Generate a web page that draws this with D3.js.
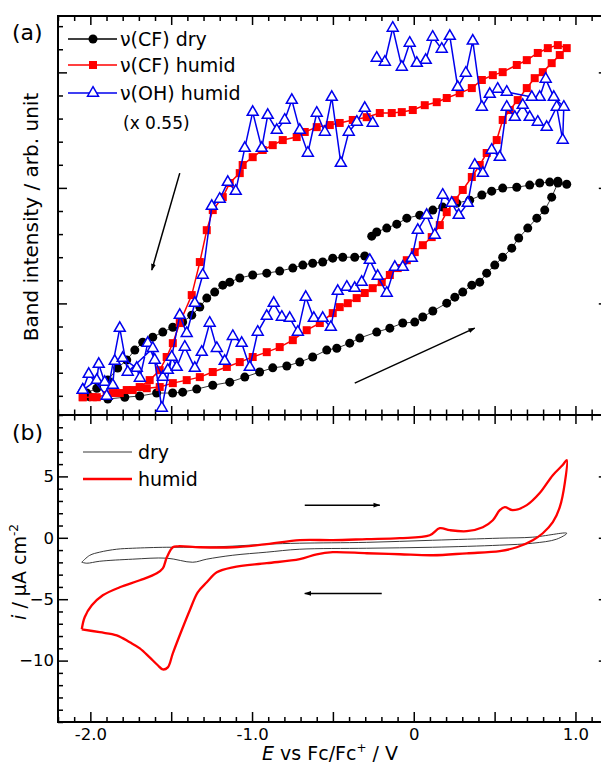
<!DOCTYPE html>
<html><head><meta charset="utf-8">
<script src="https://cdn.jsdelivr.net/npm/d3@7"></script>
<style>body{margin:0;background:#fff}</style>
</head><body>
<script>
// ---- panel (a): band intensity vs potential, [E (V), intensity (arb.)]; null = break in the line
const cfDry = [
  [-2.004,0.096],[-1.892,0.086],[-1.787,0.094],[-1.695,0.099],[-1.590,0.112],[-1.491,0.112],[-1.429,0.116],
  [-1.342,0.129],[-1.243,0.146],[-1.138,0.159],[-1.045,0.181],[-0.953,0.203],[-0.872,0.221],[-0.785,0.229],
  [-0.705,0.246],[-0.625,0.268],[-0.538,0.298],[-0.476,0.306],[-0.396,0.328],[-0.334,0.350],[-0.229,0.376],
  [-0.148,0.393],[-0.068,0.415],[0.006,0.419],[0.056,0.441],[0.118,0.467],[0.204,0.501],[0.254,0.527],
  [0.303,0.549],[0.359,0.579],[0.408,0.592],[0.451,0.631],[0.501,0.666],[0.550,0.700],[0.606,0.739],
  [0.649,0.783],[0.705,0.826],[0.761,0.869],[0.810,0.904],[0.853,0.960],[0.891,1.021],[0.946,1.016],
  [0.891,1.029],[0.841,1.025],[0.779,1.021],[0.717,1.012],[0.637,1.003],[0.550,0.999],[0.482,0.986],
  [0.421,0.969],[0.346,0.947],[0.266,0.934],[0.179,0.917],[0.118,0.904],[0.037,0.882],[-0.043,0.869],
  [-0.105,0.843],[-0.167,0.826],[-0.229,0.809],[-0.260,0.791],
  null,
  [-0.303,0.705],[-0.365,0.700],[-0.439,0.700],[-0.501,0.696],[-0.563,0.679],[-0.625,0.674],[-0.686,0.666],
  [-0.748,0.653],[-0.829,0.640],[-0.909,0.631],[-0.996,0.623],[-1.076,0.610],[-1.138,0.592],[-1.181,0.579],
  [-1.231,0.549],[-1.280,0.523],[-1.323,0.484],[-1.373,0.449],[-1.429,0.419],[-1.490,0.397],[-1.552,0.376],
  [-1.614,0.354],[-1.676,0.332],[-1.725,0.298],[-1.775,0.255],[-1.831,0.220],[-1.892,0.168],[-1.960,0.133],
  [-2.022,0.112]
];
const cfHumid = [
  [-2.047,0.094],[-1.985,0.094],[-1.899,0.103],[-1.818,0.112],[-1.738,0.125],[-1.651,0.133],[-1.571,0.138],
  [-1.490,0.155],[-1.404,0.168],[-1.323,0.181],[-1.243,0.203],[-1.156,0.225],[-1.076,0.246],[-0.996,0.268],
  [-0.909,0.289],[-0.829,0.311],[-0.748,0.341],[-0.662,0.384],[-0.581,0.415],[-0.501,0.458],[-0.458,0.484],
  [-0.408,0.501],[-0.353,0.523],[-0.303,0.545],[-0.254,0.566],[-0.198,0.592],[-0.148,0.623],[-0.099,0.653],
  [-0.043,0.687],[0.006,0.722],[0.056,0.752],[0.111,0.787],[0.161,0.839],[0.204,0.895],[0.254,0.947],
  [0.303,0.991],[0.359,1.047],[0.408,1.099],[0.451,1.151],[0.513,1.207],[0.550,1.294],[0.594,1.337],
  [0.643,1.380],[0.699,1.432],[0.748,1.475],[0.798,1.501],[0.853,1.540],[0.903,1.575],[0.946,1.605],
  [0.891,1.618],[0.829,1.605],[0.767,1.584],[0.699,1.553],[0.637,1.532],[0.550,1.501],[0.489,1.488],
  [0.421,1.467],[0.359,1.432],[0.284,1.410],[0.204,1.389],[0.142,1.371],[0.068,1.358],[-0.006,1.337],
  [-0.074,1.328],[-0.136,1.324],[-0.210,1.324],[-0.291,1.306],[-0.377,1.294],[-0.458,1.281],[-0.519,1.272],
  [-0.600,1.263],[-0.674,1.242],[-0.724,1.220],[-0.810,1.207],[-0.872,1.185],[-0.934,1.164],[-0.996,1.133],
  [-1.058,1.099],[-1.076,1.064],[-1.138,1.021],[-1.181,0.960],[-1.243,0.904],[-1.280,0.817],[-1.323,0.679],
  [-1.373,0.536],[-1.447,0.415],[-1.490,0.328],[-1.528,0.268],[-1.571,0.211],[-1.633,0.168],[-1.695,0.138],
  [-1.775,0.125],[-1.861,0.112],[-1.960,0.094],[-2.047,0.094]
];
const ohHumid = [
  [-2.047,0.125],[-1.960,0.168],[-1.948,0.237],[-1.911,0.159],[-1.861,0.146],[-1.849,0.250],[-1.800,0.263],
  [-1.713,0.220],[-1.694,0.177],[-1.645,0.328],[-1.602,0.255],[-1.552,0.181],[-1.521,0.211],[-1.497,0.268],
  [-1.466,0.224],[-1.416,0.311],[-1.354,0.220],[-1.311,0.289],[-1.262,0.415],[-1.218,0.306],[-1.169,0.250],
  [-1.119,0.358],[-1.064,0.328],[-1.014,0.224],[-0.965,0.376],[-0.909,0.445],[-0.866,0.501],[-0.816,0.441],
  [-0.767,0.436],[-0.717,0.376],[-0.668,0.527],[-0.618,0.436],[-0.563,0.436],[-0.513,0.397],[-0.470,0.553],
  [-0.414,0.571],[-0.365,0.566],[-0.322,0.592],[-0.272,0.687],[-0.223,0.618],[-0.167,0.545],[-0.117,0.657],
  [-0.068,0.657],[-0.012,0.696],[0.025,0.817],[0.080,0.882],[0.130,0.796],[0.179,0.969],[0.235,0.934],
  [0.278,0.882],[0.334,0.934],[0.377,1.099],[0.427,1.064],[0.482,1.164],[0.532,1.133],[0.575,1.350],
  [0.625,1.306],[0.674,1.358],[0.717,1.306],[0.767,1.285],[0.822,1.263],[0.884,1.350],[0.921,1.207],
  [0.928,1.350],[0.866,1.393],[0.816,1.471],[0.779,1.393],[0.730,1.393],[0.575,1.415],[0.519,1.428],
  [0.470,1.406],[0.421,1.350],[0.365,1.636],[0.322,1.497],[0.272,1.436],[0.223,1.657],[0.173,1.601],
  [0.117,1.653],[0.074,1.553],[0.019,1.540],[-0.025,1.627],[-0.074,1.523],[-0.130,1.692],[-0.179,1.545],
  [-0.229,1.562],
  null,
  [-0.254,1.281],[-0.303,1.345],[-0.352,1.285],[-0.402,1.242],[-0.451,1.107],[-0.507,1.393],[-0.550,1.242],
  [-0.600,1.324],[-0.655,1.151],[-0.705,1.250],[-0.754,1.380],[-0.798,1.294],[-0.847,1.250],[-0.903,1.315],
  [-0.940,1.172],[-0.996,1.328],[-1.045,1.172],[-1.101,0.986],[-1.150,1.025],[-1.200,0.952],[-1.249,0.921],
  [-1.305,0.623],[-1.354,0.501],[-1.404,0.371],[-1.447,0.449],[-1.558,0.047],[-1.614,0.306],[-1.769,0.203],
  [-1.818,0.393],[-1.899,0.099],[-2.010,0.194],[-2.047,0.125]
];

// ---- panel (b): cyclic voltammograms, [E (V), i (uA cm-2)]
const cvDry = [
  [-2.053,-1.99],[-2.004,-1.43],[-1.942,-1.17],[-1.837,-0.93],[-1.738,-0.85],[-1.527,-0.77],[-1.323,-0.77],
  [-1.119,-0.68],[-0.909,-0.52],[-0.705,-0.44],[-0.291,-0.37],[0.117,-0.20],[0.532,-0.03],[0.736,0.05],
  [0.946,0.37],[0.884,-0.11],[0.736,-0.44],[0.532,-0.60],[0.117,-0.77],[-0.291,-0.85],[-0.705,-0.93],
  [-0.909,-1.17],[-1.119,-1.42],[-1.280,-1.74],[-1.367,-1.99],[-1.527,-1.66],[-1.738,-1.74],[-1.942,-1.91],
  [-2.022,-2.07],[-2.053,-1.99]
];
const cvHumid = [
  [-2.053,-7.45],[-2.035,-6.47],[-1.991,-5.50],[-1.923,-4.68],[-1.818,-4.03],[-1.694,-3.46],[-1.589,-2.89],
  [-1.552,-2.49],[-1.527,-1.59],[-1.490,-0.77],[-1.459,-0.69],[-1.323,-0.77],[-1.119,-0.77],[-0.909,-0.52],
  [-0.705,-0.19],[-0.501,-0.19],[-0.291,-0.11],[-0.087,-0.03],[0.099,0.21],[0.161,0.78],[0.223,0.62],
  [0.328,0.54],[0.427,0.86],[0.489,1.43],[0.532,2.25],[0.563,2.49],[0.612,2.25],[0.699,2.66],[0.779,3.64],
  [0.860,5.10],[0.921,5.92],[0.946,6.33],[0.934,4.45],[0.903,2.49],[0.860,1.27],[0.798,0.37],[0.736,-0.19],
  [0.637,-0.77],[0.532,-1.09],[0.328,-1.26],[0.117,-1.42],[-0.087,-1.34],[-0.291,-1.26],[-0.501,-1.17],
  [-0.600,-1.34],[-0.705,-1.74],[-0.909,-2.07],[-1.119,-2.40],[-1.218,-2.81],[-1.280,-3.62],[-1.336,-4.44],
  [-1.385,-5.90],[-1.435,-7.53],[-1.490,-9.41],[-1.521,-10.55],[-1.552,-10.72],[-1.583,-10.38],
  [-1.633,-9.74],[-1.694,-9.00],[-1.756,-8.51],[-1.837,-7.94],[-1.942,-7.69],[-2.053,-7.45]
];

// ticks
const xMajor = [-2, -1.5, -1, -0.5, 0, 0.5, 1];
const xMinor = d3.range(-22, 12).map(v => v / 10);
const xLabels = new Map([[-2, "-2.0"], [-1, "-1.0"], [0, "0"], [1, "1.0"]]);
const yaMajor = [0.5, 1, 1.5];
const yaMinor = d3.range(1, 18).map(v => v / 10);
const ybMajor = [-10, -5, 0, 5];
const ybMinor = d3.range(-15, 11);

// arrows [[E0, y0], [E1, y1]]
const arrowsA = [[[-1.447, 1.064], [-1.620, 0.644]], [[-0.365, 0.155], [0.377, 0.393]]];
const arrowsB = [[[-0.674, 2.66], [-0.210, 2.66]], [[-0.198, -4.53], [-0.674, -4.53]]];

const W = 601, H = 767;
const FONT = "'DejaVu Sans', sans-serif";
const svg = d3.select("body").append("svg")
  .attr("width", W).attr("height", H)
  .style("font-family", FONT);

const x = d3.scaleLinear().domain([-2.2, 1.2]).range([58, 607.8]);
const ya = d3.scaleLinear().domain([0.017, 1.744]).range([415, 16]);
const yb = d3.scaleLinear().domain([-15, 10]).range([722, 415]);

const defs = svg.append("defs");
defs.append("marker").attr("id", "ah")
  .attr("viewBox", "0 0 10 10").attr("refX", 9).attr("refY", 5)
  .attr("markerWidth", 7).attr("markerHeight", 7).attr("orient", "auto")
  .attr("markerUnits", "userSpaceOnUse")
  .append("path").attr("d", "M0,1.5L10,5L0,8.5Z").attr("fill", "#000");

// axis helper
function ticks(gen, vals, size, tx, ty, fmt) {
  const g = svg.append("g").attr("transform", `translate(${tx},${ty})`)
    .call(gen.tickValues(vals).tickSize(size).tickSizeOuter(0)
      .tickPadding(gen.pad || 6).tickFormat(fmt || (() => "")));
  g.attr("font-family", FONT).attr("font-size", 16.5);
  g.select(".domain").remove();
  g.selectAll("line").attr("stroke", "#000").attr("stroke-width", 1.5);
  g.selectAll("text").attr("fill", "#000");
  return g;
}
const minorOnly = vals => vals.filter(v => !xMajor.some(m => Math.abs(m - v) < 1e-6));

// bottom axis of (b)
ticks(d3.axisBottom(x), xMajor, -10, 0, 722, v => xLabels.get(v) || "")
  .selectAll("text").attr("dy", "0.71em").attr("y", 6);
ticks(d3.axisBottom(x), minorOnly(xMinor), -5, 0, 722);
// shared middle axis
ticks(d3.axisBottom(x), xMajor, 9, 0, 415);
ticks(d3.axisTop(x), xMajor, 9, 0, 415);
ticks(d3.axisBottom(x), minorOnly(xMinor), 5.5, 0, 415);
ticks(d3.axisTop(x), minorOnly(xMinor), 5.5, 0, 415);
// top axis of (a)
ticks(d3.axisBottom(x), xMajor, 9, 0, 16);
ticks(d3.axisBottom(x), minorOnly(xMinor), 5, 0, 16);
// left / right of (a)
ticks(d3.axisRight(ya), yaMajor, 9, 58, 0);
ticks(d3.axisRight(ya), yaMinor.filter(v => !yaMajor.includes(v)), 5, 58, 0);
ticks(d3.axisLeft(ya), yaMajor, 9, 607.8, 0);
ticks(d3.axisLeft(ya), yaMinor.filter(v => !yaMajor.includes(v)), 5, 607.8, 0);
// left / right of (b)
const lb = d3.axisLeft(yb); lb.pad = 4;
ticks(lb, ybMajor, -10, 58, 0, d3.format("d"));
ticks(d3.axisLeft(yb), ybMinor.filter(v => !ybMajor.includes(v)), -5, 58, 0);
ticks(d3.axisLeft(yb), ybMajor, 9, 607.8, 0);
ticks(d3.axisLeft(yb), ybMinor.filter(v => !ybMajor.includes(v)), 5, 607.8, 0);

// frames
[[16, 415], [415, 722]].forEach(([t, b]) => {
  svg.append("rect").attr("x", 58).attr("y", t).attr("width", 607.8 - 58).attr("height", b - t)
    .attr("fill", "none").attr("stroke", "#000").attr("stroke-width", 2);
});

// ---- panel (a) series
const lineA = d3.line().defined(d => d).x(d => x(d[0])).y(d => ya(d[1]));
const gA = svg.append("g");

gA.append("path").datum(cfDry).attr("d", lineA)
  .attr("fill", "none").attr("stroke", "#000").attr("stroke-width", 0.8);
gA.append("g").selectAll("circle").data(cfDry.filter(d => d)).join("circle")
  .attr("cx", d => x(d[0])).attr("cy", d => ya(d[1])).attr("r", 4.5).attr("fill", "#000");

gA.append("path").datum(cfHumid).attr("d", lineA)
  .attr("fill", "none").attr("stroke", "#ff0000").attr("stroke-width", 1.5);
gA.append("g").selectAll("rect").data(cfHumid).join("rect")
  .attr("x", d => x(d[0]) - 4).attr("y", d => ya(d[1]) - 4)
  .attr("width", 8).attr("height", 8).attr("fill", "#ff0000");

const tri = d3.symbol().type(d3.symbolTriangle).size(52);
gA.append("path").datum(ohHumid).attr("d", lineA)
  .attr("fill", "none").attr("stroke", "#0000ee").attr("stroke-width", 1.5);
gA.append("g").selectAll("path").data(ohHumid.filter(d => d)).join("path")
  .attr("d", tri).attr("transform", d => `translate(${x(d[0])},${ya(d[1])})`)
  .attr("fill", "#fff").attr("stroke", "#0000ee").attr("stroke-width", 1.5);

arrowsA.forEach(([a, b]) => {
  svg.append("line").attr("x1", x(a[0])).attr("y1", ya(a[1])).attr("x2", x(b[0])).attr("y2", ya(b[1]))
    .attr("stroke", "#000").attr("stroke-width", 1.5).attr("marker-end", "url(#ah)");
});

// legend (a)
const legA = svg.append("g").attr("font-size", 19);
const rows = [
  { y: 39, label: "\u03bd(CF) dry", kind: "dot" },
  { y: 65, label: "\u03bd(CF) humid", kind: "sq" },
  { y: 93, label: "\u03bd(OH) humid", kind: "tri" }
];
rows.forEach(r => {
  const col = r.kind === "dot" ? "#000" : r.kind === "sq" ? "#ff0000" : "#0000ee";
  legA.append("line").attr("x1", 68).attr("x2", 117).attr("y1", r.y).attr("y2", r.y)
    .attr("stroke", col).attr("stroke-width", 1.5);
  if (r.kind === "dot") legA.append("circle").attr("cx", 93).attr("cy", r.y).attr("r", 4.5).attr("fill", col);
  if (r.kind === "sq") legA.append("rect").attr("x", 89).attr("y", r.y - 4).attr("width", 8).attr("height", 8).attr("fill", col);
  if (r.kind === "tri") legA.append("path").attr("d", tri).attr("transform", `translate(93,${r.y})`)
    .attr("fill", "#fff").attr("stroke", col).attr("stroke-width", 1.5);
  legA.append("text").attr("x", 120).attr("y", r.y + 7).text(r.label);
});
legA.append("text").attr("x", 123).attr("y", 129).attr("font-size", 17).text("(x 0.55)");

// ---- panel (b) series
const lineB = d3.line().x(d => x(d[0])).y(d => yb(d[1])).curve(d3.curveCatmullRom);
svg.append("path").datum(cvDry).attr("d", lineB)
  .attr("fill", "none").attr("stroke", "#222").attr("stroke-width", 0.9);
svg.append("path").datum(cvHumid).attr("d", lineB)
  .attr("fill", "none").attr("stroke", "#ff0000").attr("stroke-width", 2.3);

arrowsB.forEach(([a, b]) => {
  svg.append("line").attr("x1", x(a[0])).attr("y1", yb(a[1])).attr("x2", x(b[0])).attr("y2", yb(b[1]))
    .attr("stroke", "#000").attr("stroke-width", 1.5).attr("marker-end", "url(#ah)");
});

const legB = svg.append("g").attr("font-size", 19);
legB.append("line").attr("x1", 83).attr("x2", 132).attr("y1", 452).attr("y2", 452)
  .attr("stroke", "#222").attr("stroke-width", 0.9);
legB.append("line").attr("x1", 83).attr("x2", 132).attr("y1", 479).attr("y2", 479)
  .attr("stroke", "#ff0000").attr("stroke-width", 2.3);
legB.append("text").attr("x", 138).attr("y", 459).text("dry");
legB.append("text").attr("x", 138).attr("y", 486).text("humid");

// panel letters
svg.append("text").attr("x", 12).attr("y", 40).attr("font-size", 22).text("(a)");
svg.append("text").attr("x", 12).attr("y", 440).attr("font-size", 22).text("(b)");

// axis titles
svg.append("text").attr("transform", "translate(38,217) rotate(-90)")
  .attr("text-anchor", "middle").attr("font-size", 20).text("Band intensity / arb. unit");

const yt = svg.append("text").attr("transform", "translate(26,572) rotate(-90)")
  .attr("text-anchor", "middle").attr("font-size", 19);
yt.append("tspan").attr("font-style", "italic").text("i");
yt.append("tspan").text(" / \u03bcA cm");
yt.append("tspan").attr("font-size", 12).attr("dy", -8).text("-2");

const xt = svg.append("text").attr("x", 330).attr("y", 760)
  .attr("text-anchor", "middle").attr("font-size", 19);
xt.append("tspan").attr("font-style", "italic").text("E");
xt.append("tspan").text(" vs Fc/Fc");
xt.append("tspan").attr("font-size", 12).attr("dy", -8).text("+");
xt.append("tspan").attr("dy", 8).text(" / V");
</script>
</body></html>
